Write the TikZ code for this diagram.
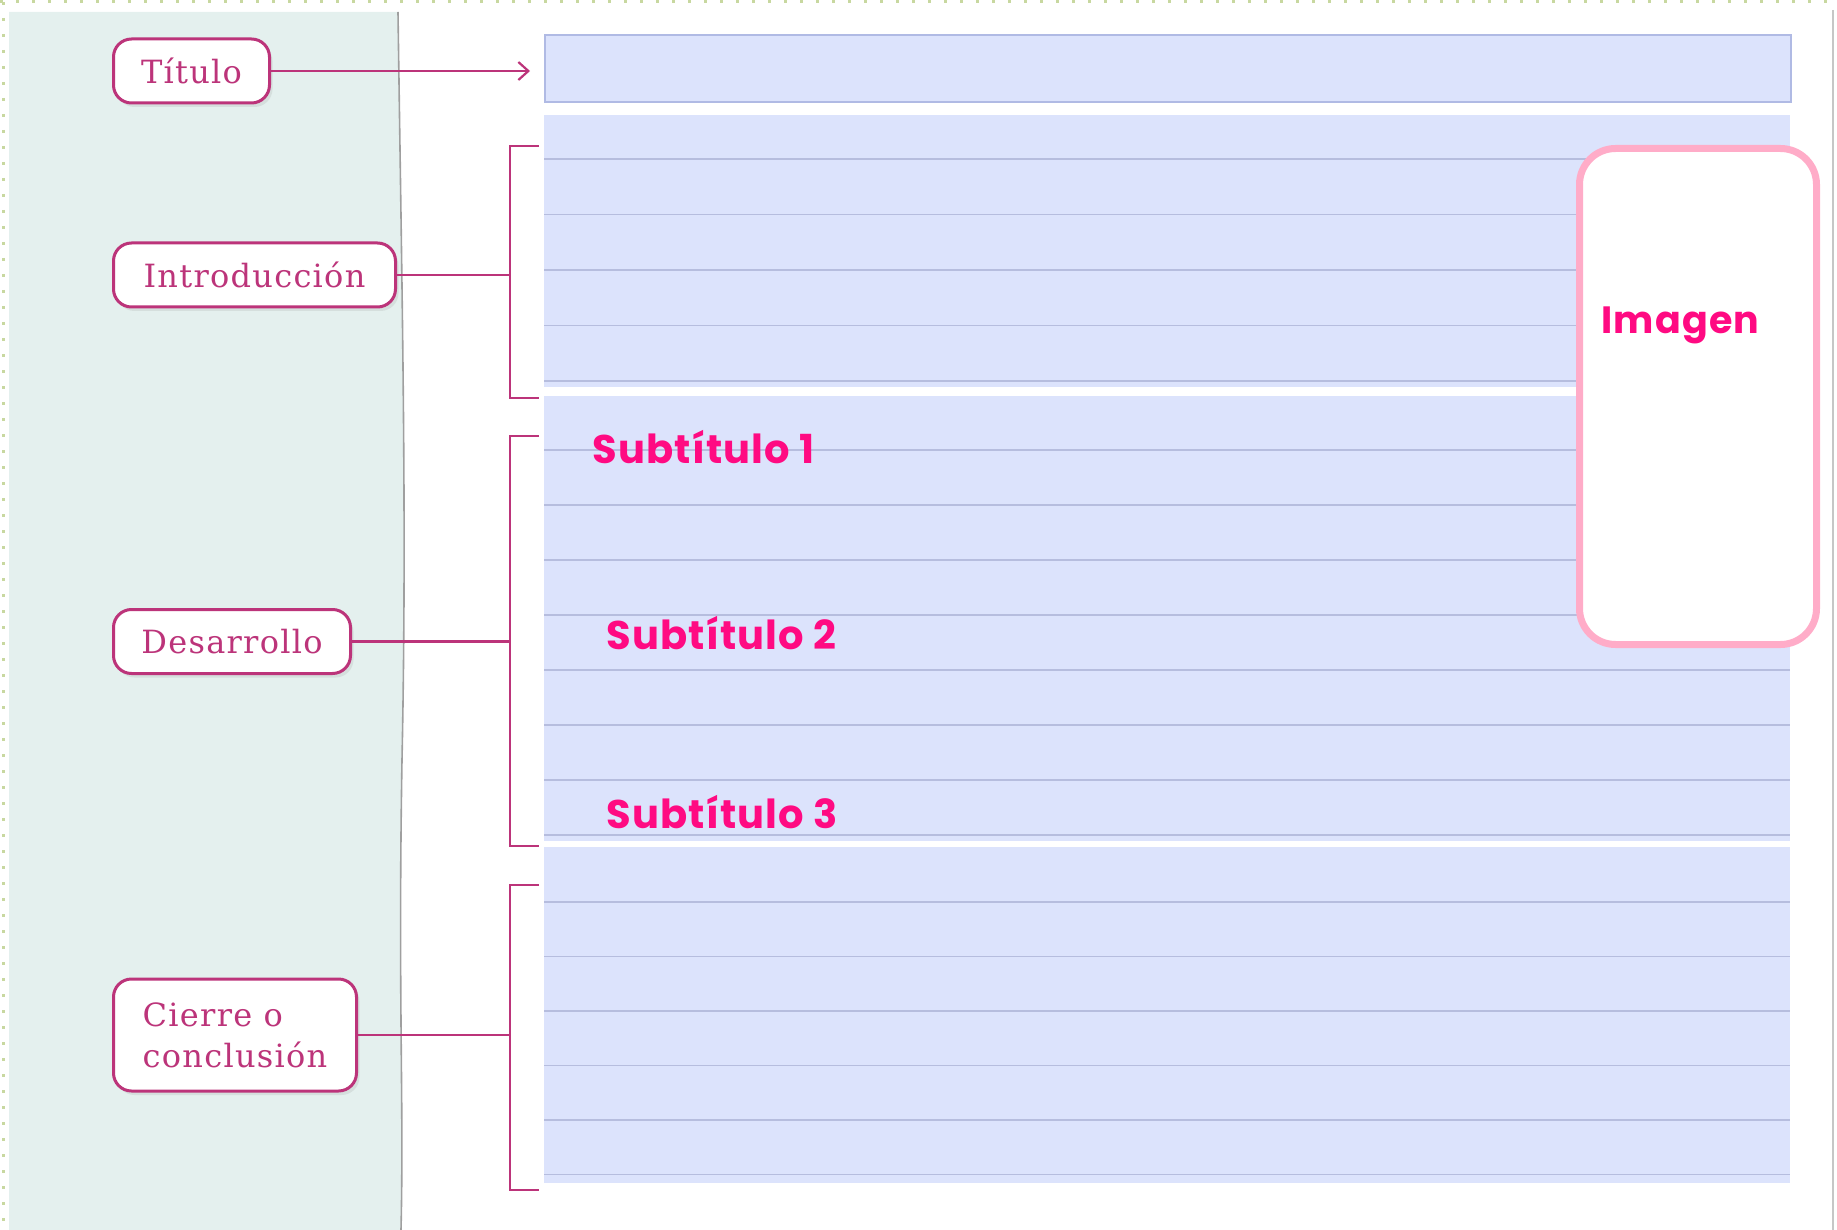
\documentclass[tikz,border=0pt]{standalone}
\usepackage{fontspec}
\setmainfont{DejaVu Serif}
\newfontfamily\labelfont{DejaVu Serif}[LetterSpace=4]
\newfontfamily\handfont{Poppins}[LetterSpace=3]
\usetikzlibrary{arrows.meta,shadows}

\definecolor{panelbg}{RGB}{228,240,238}
\definecolor{sheetbg}{RGB}{220,227,252}
\definecolor{ruleline}{RGB}{182,189,222}
\definecolor{barline}{RGB}{176,186,228}
\definecolor{plum}{RGB}{188,52,122}
\definecolor{hotpink}{RGB}{255,10,130}
\definecolor{softpink}{RGB}{255,172,200}
\definecolor{dotgreen}{RGB}{200,216,160}

\tikzset{
  part/.style={draw=plum, line width=1.5pt, rounded corners=9pt, fill=white,
    text=plum, font=\labelfont\fontsize{16}{20.5}\selectfont,
    minimum height=32pt, inner xsep=13pt, anchor=west,
    drop shadow={opacity=0.15, shadow xshift=1.5pt, shadow yshift=-2pt}},
  link/.style={plum, line width=1.1pt},
  rule/.style={ruleline, line width=0.8pt},
  subtitle/.style={text=hotpink, inner sep=0pt, anchor=base west,
    font=\handfont\bfseries\fontsize{20}{24}\selectfont},
}

\begin{document}
\begin{tikzpicture}[x=0.5pt,y=-0.5pt]
\useasboundingbox (0,0) rectangle (1837,1230);

% Define the wavy edge of the left panel
\def\paneledge{(398,12) .. controls (402,300) and (407,520) .. (402,760) .. controls (398,1000) and (404,1100) .. (401,1230)}

% Left panel and page border
\fill[panelbg] (9,12) -- \paneledge -- (9,1230) -- cycle;
\draw[gray!75, line width=0.8pt] \paneledge;
\draw[dotgreen, line width=1.5pt, dash pattern=on 1.5pt off 6.5pt] (0,2) -- (1837,2);
\draw[dotgreen, line width=1.5pt, dash pattern=on 1.5pt off 6.5pt] (3,2) -- (3,1230);
\draw[gray!45, line width=0.8pt] (1833,10) -- (1833,1230);

% Title bar
\node[fill=sheetbg, draw=barline, line width=1pt, minimum width=623pt,
  minimum height=33.5pt, anchor=north west, inner sep=0pt] (titlebar) at (544,34) {};

% Ruled sheets: introduction, development, closing
\fill[sheetbg] (544,115) rectangle (1790,387);
\fill[sheetbg] (544,396) rectangle (1790,841);
\fill[sheetbg] (544,847) rectangle (1790,1183);
\foreach \y in {159,214.5,270,325.5,381}
  \draw[rule] (544,\y) -- (1790,\y);
\foreach \y in {450,505,560,615,670,725,780,835}
  \draw[rule] (544,\y) -- (1790,\y);
\foreach \y in {902,956.5,1011,1065.5,1120,1174.5}
  \draw[rule] (544,\y) -- (1790,\y);

% Image frame
\node[draw=softpink, line width=3.5pt, fill=white, rounded corners=18pt,
  minimum width=118.5pt, minimum height=248pt, inner sep=0pt] (imagen) at (1698,396.5) {};
\node[subtitle, font=\handfont\bfseries\fontsize{19}{24}\selectfont] (imagentxt) at (1601,334) {Imagen};

% Subtitles
\node[subtitle] (sub1) at (592,463) {Subtítulo 1};
\node[subtitle] (sub2) at (606,649) {Subtítulo 2};
\node[subtitle] (sub3) at (606,828) {Subtítulo 3};

% Parts of the text
\node[part, minimum width=78pt] (titulo) at (112,71) {Título};
\node[part, minimum width=141pt] (intro) at (112,275) {Introducción};
\node[part, minimum width=118.5pt] (desarrollo) at (112,641.5) {Desarrollo};
\node[part, minimum width=121.5pt, minimum height=56pt, align=left] (cierre) at (112,1035) {Cierre o\\conclusión};

% Brackets
\coordinate (titletip) at (530,71);
\coordinate (introbrace) at (510,275);
\coordinate (desbrace) at (510,641.5);
\coordinate (cierrebrace) at (510,1035);
\draw[link] (539,146) -| (510,398) -- (539,398);
\draw[link] (539,436) -| (510,846) -- (539,846);
\draw[link] (539,885) -| (510,1190) -- (539,1190);

% Connectors
\draw[link, -{Straight Barb[length=5pt,width=9pt]}] (titulo) -- (titletip);
\draw[link] (intro) -- (introbrace);
\draw[link] (desarrollo) -- (desbrace);
\draw[link] (cierre) -- (cierrebrace);
\end{tikzpicture}
\end{document}
